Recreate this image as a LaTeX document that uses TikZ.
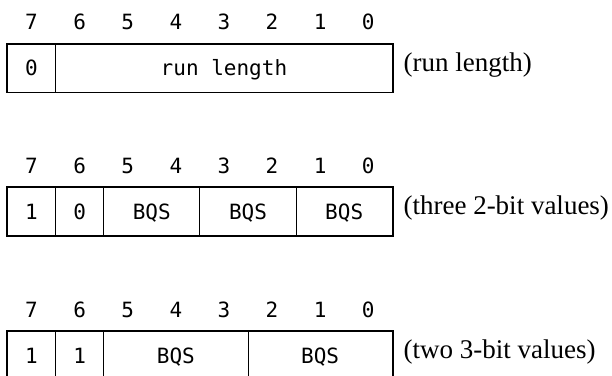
\documentclass[tikz,border=0pt]{standalone}
\usepackage{fontspec}
\setmainfont{Liberation Serif}
\newfontfamily\bitfont{DejaVu Sans Mono}
\begin{document}
\begin{tikzpicture}[x=1pt,y=-1pt,
  bitfnt/.style={font=\bitfont\fontsize{21}{25}\selectfont},
  field/.style={bitfnt, draw, line width=1pt, minimum height=48pt,
    inner sep=0pt, text height=15pt, text depth=0pt},
  bitno/.style={bitfnt, anchor=base},
  frame/.style={line width=1.6pt},
  caption/.style={font=\fontsize{27}{32}\selectfont, anchor=base west}]
\useasboundingbox (0,0) rectangle (612,375);

% ---- byte layout 1: flag 0 + run length ----
\foreach \b [count=\i from 0] in {7,...,0}
  \node[bitno] (n1-\b) at (31.55+48.1*\i, 29.5) {\b};
\node[field, minimum width=48.1pt]  (r1a) at (31.55, 68) {0};
\node[field, minimum width=336.7pt] (r1b) at (223.95, 68) {run length};
\draw[frame] (r1a.north west) rectangle (r1b.south east);
\node[caption] (c1) at (400, 71) {(run length)};

% ---- byte layout 2: flags 10 + three 2-bit values ----
\foreach \b [count=\i from 0] in {7,...,0}
  \node[bitno] (n2-\b) at (31.55+48.1*\i, 173) {\b};
\node[field, minimum width=48.1pt] (r2a) at (31.55, 211.5) {1};
\node[field, minimum width=48.1pt] (r2b) at (79.65, 211.5) {0};
\node[field, minimum width=96.2pt] (r2c) at (151.8, 211.5) {BQS};
\node[field, minimum width=96.2pt] (r2d) at (248.0, 211.5) {BQS};
\node[field, minimum width=96.2pt] (r2e) at (344.2, 211.5) {BQS};
\draw[frame] (r2a.north west) rectangle (r2e.south east);
\node[caption] (c2) at (400, 214.5) {(three 2-bit values)};

% ---- byte layout 3: flags 11 + two 3-bit values ----
\foreach \b [count=\i from 0] in {7,...,0}
  \node[bitno] (n3-\b) at (31.55+48.1*\i, 317) {\b};
\node[field, minimum width=48.1pt]  (r3a) at (31.55, 355.5) {1};
\node[field, minimum width=48.1pt]  (r3b) at (79.65, 355.5) {1};
\node[field, minimum width=144.3pt] (r3c) at (175.85, 355.5) {BQS};
\node[field, minimum width=144.3pt] (r3d) at (320.15, 355.5) {BQS};
\draw[frame] (r3a.north west) rectangle (r3d.south east);
\node[caption] (c3) at (400, 358.5) {(two 3-bit values)};
\end{tikzpicture}
\end{document}
